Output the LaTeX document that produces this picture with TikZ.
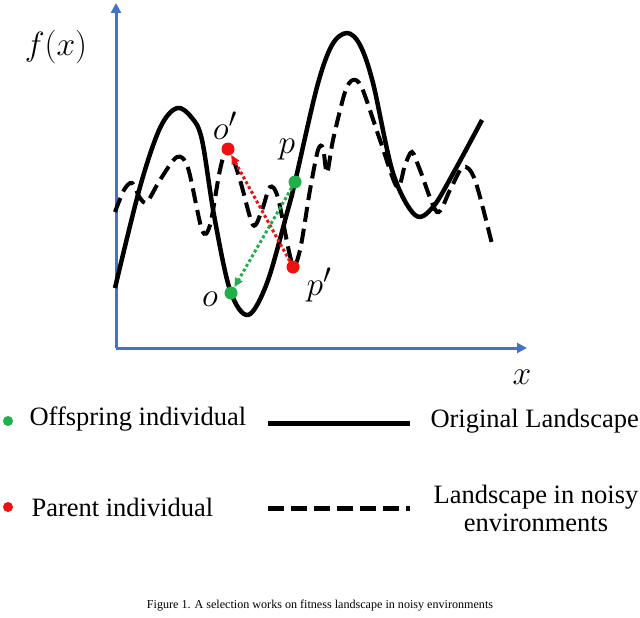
\documentclass[tikz,border=0pt]{standalone}
\usepackage{fontspec}
\setmainfont{Liberation Serif}
\usetikzlibrary{arrows.meta}
\definecolor{axisblue}{HTML}{4472C4}
\definecolor{ptgreen}{HTML}{1DB04B}
\definecolor{ptred}{HTML}{F01010}
\newcommand{\plotmath}[1]{\scalebox{1.35}{$#1$}}
\begin{document}
\begin{tikzpicture}[x=1pt,y=-1pt,
  axis/.style={axisblue,line width=3pt,-{Triangle[length=10pt,width=10pt]}},
  solidland/.style={black,line width=4.5pt},
  noisyland/.style={black,line width=4pt,dash pattern=on 15pt off 7pt},
  ptdot/.style={circle,fill=#1,inner sep=0pt,minimum size=13pt},
  mlabel/.style={font=\fontsize{24.88}{30}\selectfont},
  legtext/.style={font=\fontsize{26.5}{31}\selectfont},
  movearrow/.style={line width=3pt,dash pattern=on 3pt off 2.5pt,-{Triangle[length=9pt,width=8pt]}}]
\useasboundingbox (0,0) rectangle (640,618);
% axes
\coordinate (orig) at (116,348);
\coordinate (ytop) at (116,3);
\coordinate (xend) at (527,348);
\draw[axis] (orig) -- (ytop);
\draw[axis] (orig) -- (xend);
\node[mlabel] (fx) at (56,47) {\plotmath{f(x)}};
\node[mlabel] (xl) at (522,377) {\plotmath{x}};
% original landscape
\draw[solidland,line join=round] plot[smooth,tension=0.55] coordinates {
 (115,288) (140,187) (160,128) (177,108) (192,118) (202,140) (214,215) (230,290) (248,315)
 (267,283) (287,213) (295,182) (317,87) (332,45) (347,33) (360,45) (373,83) (393,173)
 (415,215) (433,207) (455,170) (482,120)};
% noisy landscape
\draw[noisyland] plot[smooth,tension=0.5] coordinates {
 (115,212) (124,190) (132,183) (140,198) (147,202) (160,180) (177,157) (188,168) (202,230) (210,225)
 (220,170) (228,147) (240,180) (253,225) (262,210) (270,187) (278,198) (292,263) (300,250)
 (310,190) (318,150) (323,148) (327,173) (333,140) (345,92) (353,80) (362,88) (380,140) (397,187)
 (405,165) (412,152) (420,170) (437,212) (450,190) (463,167) (475,180) (493,248)};
% points
\node[ptdot=ptred] (op) at (228,149) {};
\node[ptdot=ptgreen] (p) at (295,182) {};
\node[ptdot=ptred] (pp) at (293,267) {};
\node[ptdot=ptgreen] (o) at (231,293) {};
\draw[movearrow,ptred] (pp) -- (op);
\draw[movearrow,ptgreen] (p) -- (o);
\node[mlabel] (opl) at (225,126) {\plotmath{o'}};
\node[mlabel] (pl) at (287,150) {\plotmath{p}};
\node[mlabel] (ppl) at (319,285) {\plotmath{p'}};
\node[mlabel] (ol) at (210,299) {\plotmath{o}};
% legend
\node[ptdot=ptgreen,minimum size=10pt] (lg) at (8,421) {};
\node[legtext,anchor=west] (lgt) at (26,419) {Offspring individual};
\coordinate (s1) at (268,423);
\coordinate (s2) at (410,423);
\draw[black,line width=5pt] (s1) -- (s2);
\node[legtext,anchor=west] (ol1) at (427,421) {Original Landscape};
\node[ptdot=ptred,minimum size=10pt] (lr) at (8,507) {};
\node[legtext,anchor=west] (lrt) at (28,507) {Parent individual};
\coordinate (d1) at (268,508);
\coordinate (d2) at (410,508);
\draw[black,line width=5pt,dash pattern=on 16pt off 7pt] (d1) -- (d2);
\node[legtext,align=center] (nl) at (536,508) {Landscape in noisy\\[-3pt]environments};
% caption
\node[font=\fontsize{12.1}{15}\selectfont] (cap) at (320,606) {Figure 1. A selection works on fitness landscape in noisy environments};
\end{tikzpicture}
\end{document}
